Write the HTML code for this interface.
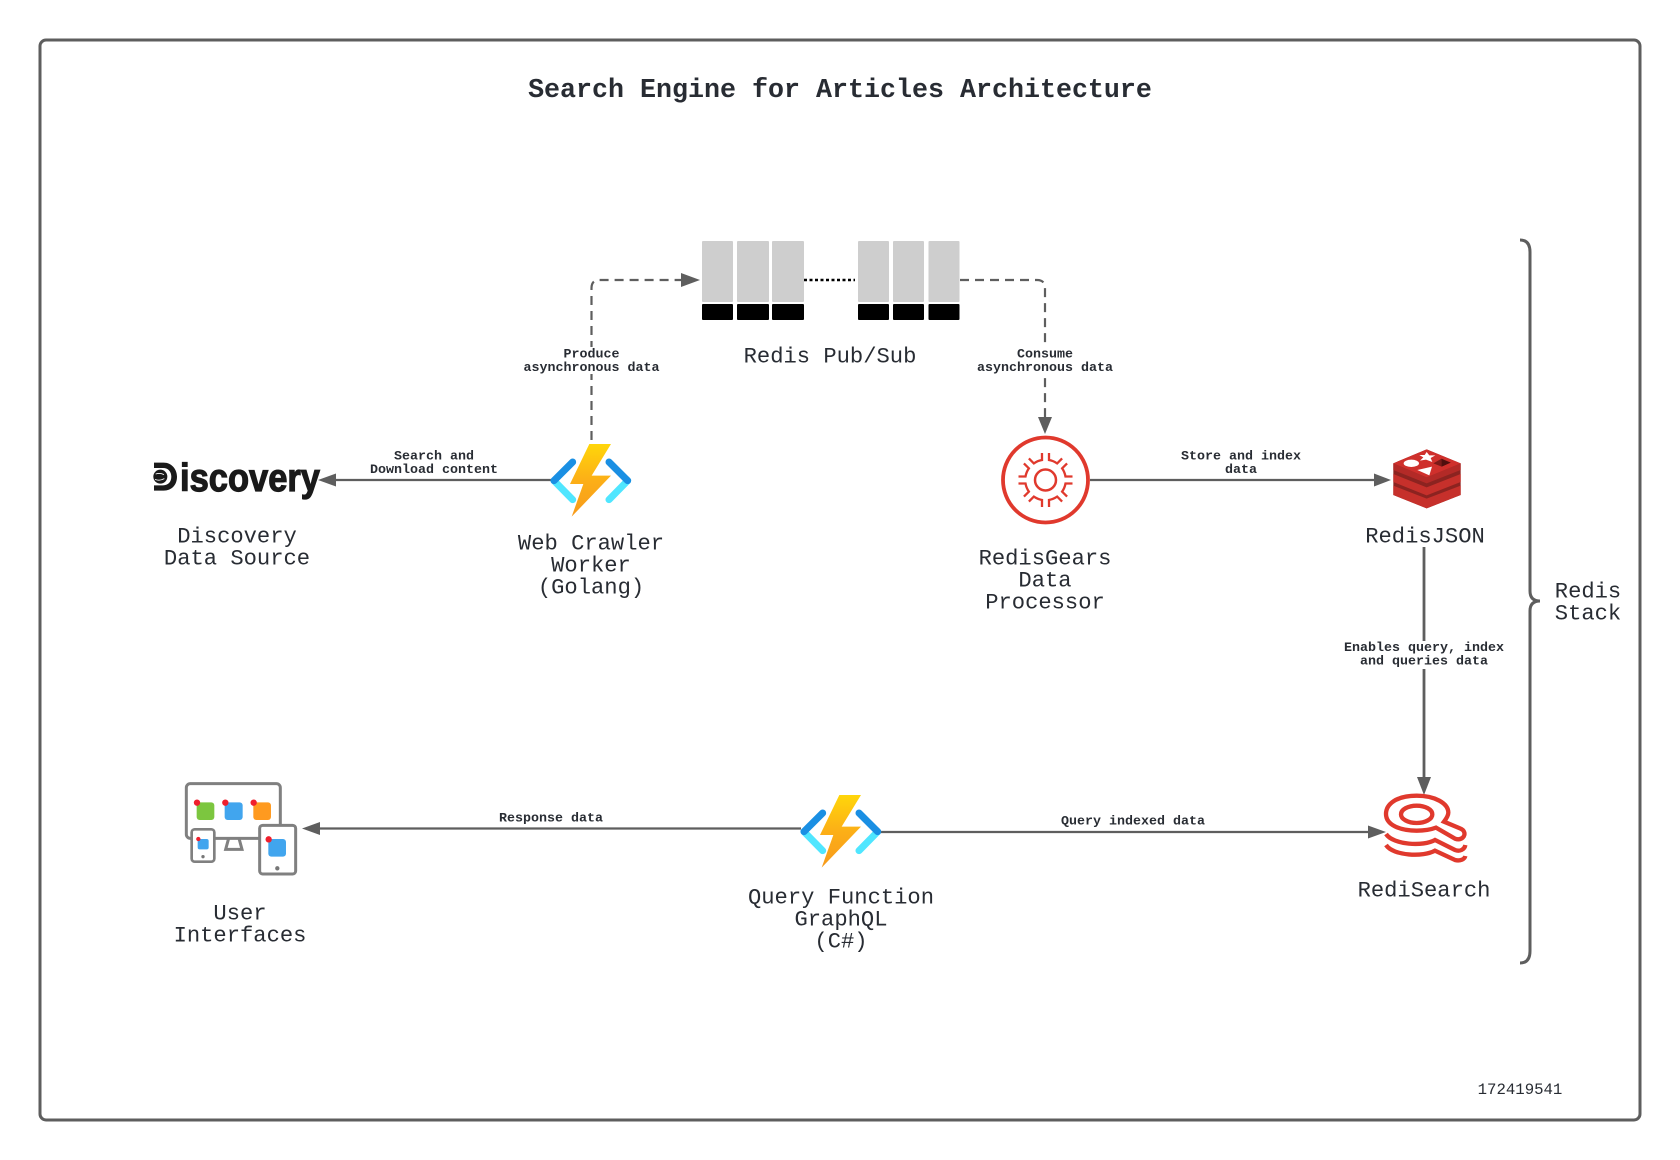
<!DOCTYPE html>
<html><head><meta charset="utf-8"><style>
html,body{margin:0;padding:0;background:#fff}svg{display:block}
.n{font:22.15px "Liberation Mono",monospace;fill:#282c33;text-anchor:middle}
.e{font:bold 13.33px "Liberation Mono",monospace;fill:#282c33;text-anchor:middle}
</style></head><body>
<svg width="1680" height="1160" viewBox="0 0 1680 1160" xmlns="http://www.w3.org/2000/svg">
<defs>
<linearGradient id="b" x1="0" y1="0" x2="0" y2="1"><stop offset="0" stop-color="#ffd60a"/><stop offset=".5" stop-color="#fcaf17"/><stop offset="1" stop-color="#f79a1b"/></linearGradient>
<g id="fn" transform="scale(.3333)">
<path d="M72,155L128,212M237,212L293,155" stroke="#50e6ff" stroke-width="21" stroke-linecap="round" fill="none"/>
<path d="M72,155L128,99M237,99L293,155" stroke="#1a8fe3" stroke-width="21" stroke-linecap="round" fill="none"/>
<polygon points="178,45 243,45 185,140 243,140 125,263 160,165 120,165" fill="url(#b)"/>
</g>
<path id="t" d="M3.5,-27L3.5,-20A20.3,20.3 0 0 1 11.67,-16.6L16.6,-21.6" fill="none" stroke="#e0392d" stroke-width="2.3"/>
</defs>
<rect x="40" y="40" width="1600" height="1080" rx="6" fill="#fff" stroke="#5e5e5e" stroke-width="3"/>
<text x="840" y="97" font-family="Liberation Mono" font-weight="bold" font-size="26.67" fill="#282c33" text-anchor="middle">Search Engine for Articles Architecture</text>

<!-- queue -->
<g fill="#cecece"><rect x="702" y="241" width="31" height="61" rx="1"/><rect x="737" y="241" width="32" height="61" rx="1"/><rect x="772" y="241" width="32" height="61" rx="1"/><rect x="858" y="241" width="31" height="61" rx="1"/><rect x="893" y="241" width="31" height="61" rx="1"/><rect x="928.500" y="241" width="31" height="61" rx="1"/></g>
<g fill="#000"><rect x="702" y="304" width="31" height="16" rx="1"/><rect x="737" y="304" width="32" height="16" rx="1"/><rect x="772" y="304" width="32" height="16" rx="1"/><rect x="858" y="304" width="31" height="16" rx="1"/><rect x="893" y="304" width="31" height="16" rx="1"/><rect x="928.500" y="304" width="31" height="16" rx="1"/></g>
<path d="M804,280H855" stroke="#000" stroke-width="2.6" stroke-dasharray="3 2.5" fill="none"/>

<!-- connectors -->
<g fill="none" stroke="#5e5e5e" stroke-width="2.2">
<path d="M591.5,440V288Q591.5,280 599.5,280H684" stroke-dasharray="9 6"/>
<path d="M960,280H1037Q1045,280 1045,288V420" stroke-dasharray="9 6"/>
<path d="M552,480H334"/>
<path d="M1090,480H1376"/>
<path d="M1424,547V780" stroke-width="2.8"/>
<path d="M801,828.5H316"/>
<path d="M881,832H1370"/>
<path d="M1520,240Q1530,240 1530,252V591Q1530,601 1540,601Q1530,601 1530,611V951Q1530,963 1520,963" stroke-width="3"/>
</g>
<g fill="#5e5e5e">
<polygon points="700,280 681,273 681,287"/>
<polygon points="1045,434 1038,417 1052,417"/>
<polygon points="318,480 336,473.5 336,486.5"/>
<polygon points="1391,480 1374,473.5 1374,486.5"/>
<polygon points="1424,795 1417,777 1431,777"/>
<polygon points="302,828.5 320,822 320,835"/>
<polygon points="1386,832 1368,825.500 1368,838.500"/>
</g>

<!-- edge label backgrounds -->
<g fill="#fff"><rect x="570" y="347" width="44" height="27"/><rect x="1023" y="347" width="44" height="27"/><rect x="1410" y="641" width="28" height="28"/></g>

<g>
<text class="e" x="591.500" y="357.500">Produce</text><text class="e" x="591.500" y="371">asynchronous data</text>
<text class="e" x="1045" y="357.500">Consume</text><text class="e" x="1045" y="371">asynchronous data</text>
<text class="e" x="434" y="459.500">Search and</text><text class="e" x="434" y="473">Download content</text>
<text class="e" x="1241" y="459.500">Store and index</text><text class="e" x="1241" y="473">data</text>
<text class="e" x="1424" y="651">Enables query, index</text><text class="e" x="1424" y="664.500">and queries data</text>
<text class="e" x="551" y="821.500">Response data</text>
<text class="e" x="1133" y="824.500">Query indexed data</text>
</g>

<!-- node labels -->
<text class="n" x="830" y="362.300">Redis Pub/Sub</text>
<text class="n" x="237" y="542.300">Discovery</text><text class="n" x="237" y="564.500">Data Source</text>
<text class="n" x="591" y="549.300">Web Crawler</text><text class="n" x="591" y="571.500">Worker</text><text class="n" x="591" y="593.700">(Golang)</text>
<text class="n" x="1045" y="564.300">RedisGears</text><text class="n" x="1045" y="586.500">Data</text><text class="n" x="1045" y="608.700">Processor</text>
<text class="n" x="1425" y="542.300">RedisJSON</text>
<text class="n" x="1588" y="597.300">Redis</text><text class="n" x="1588" y="619.500">Stack</text>
<text class="n" x="240" y="919.300">User</text><text class="n" x="240" y="941.500">Interfaces</text>
<text class="n" x="841" y="903.300">Query Function</text><text class="n" x="841" y="925.500">GraphQL</text><text class="n" x="841" y="947.700">(C#)</text>
<text class="n" x="1424" y="896.300">RediSearch</text>
<text x="1520" y="1094" font-family="Liberation Mono" font-size="15.7" fill="#282c33" text-anchor="middle">172419541</text>

<!-- discovery logo -->
<g transform="translate(145,450) scale(.3333)">
<path d="M27,38H56C80,38 96,58 96,80C96,105 80,122 56,122H27V106H54C70,106 79,95 79,80C79,65 70,54 54,54H27Z" fill="#1a1a1a"/>
<circle cx="46" cy="80" r="21" fill="#1a1a1a"/>
<path d="M32,72Q45,68 57,74M30,88Q44,94 58,86" fill="none" stroke="#fff" stroke-width="2.500"/>
</g>
<text x="180" y="491" font-family="Liberation Sans" font-weight="bold" font-size="39" fill="#1a1a1a" stroke="#1a1a1a" stroke-width="1.200" textLength="140" lengthAdjust="spacingAndGlyphs">iscovery</text>

<!-- function icons -->
<use href="#fn" x="530" y="429"/>
<use href="#fn" x="780" y="780"/>

<!-- gears -->
<circle cx="1045.500" cy="480" r="42.500" fill="#fff" stroke="#e0392d" stroke-width="3.800"/>
<circle cx="1045.500" cy="480" r="10.500" fill="none" stroke="#e0392d" stroke-width="2.500"/>
<g transform="translate(1045.500,480)"><use href="#t"/><use href="#t" transform="rotate(45)"/><use href="#t" transform="rotate(90)"/><use href="#t" transform="rotate(135)"/><use href="#t" transform="rotate(180)"/><use href="#t" transform="rotate(225)"/><use href="#t" transform="rotate(270)"/><use href="#t" transform="rotate(315)"/></g>

<!-- redis logo -->
<g transform="translate(1380,440) scale(.3333)">
<polygon points="40,70 140,28 242,70 242,165 140,205 40,165" fill="#8c2320"/>
<polygon points="40,137 140,176 242,137 242,165 140,205 40,165" fill="#c6302b"/>
<polygon points="40,102 140,142 242,102 242,126 140,166 40,126" fill="#c6302b"/>
<polygon points="40,70 140,112 242,70 242,90 140,130 40,90" fill="#b32a27"/>
<polygon points="40,70 140,28 242,70 140,112" fill="#cf302c"/>
<ellipse cx="94" cy="70" rx="23" ry="11" fill="#fff"/>
<polygon points="140,36 148,46 166,46 152,54 157,66 138,59 120,62 130,52 118,45 134,45" fill="#fff"/>
<polygon points="112,90 156,80 148,106" fill="#fff"/>
<polygon points="160,70 185,56 212,68 185,80" fill="#7a1a18"/>
<polygon points="185,57 212,68 185,80" fill="#4f0f0e"/>
</g>

<!-- redisearch logo -->
<g transform="translate(1360,780) scale(.3333)" fill="none" stroke="#e0392d" stroke-width="13">
<path d="M170,47C110,47 78,72 78,102C78,135 120,152 170,152C195,152 215,148 228,143L285,176C305,183 318,168 312,155C310,150 305,147 300,145L252,125C262,112 265,105 265,98C265,70 225,47 170,47Z"/>
<ellipse cx="170" cy="103" rx="47" ry="26"/>
<path d="M78,162C100,195 190,200 225,180L285,210C300,216 314,208 316,195"/>
<path d="M78,195C100,228 190,232 225,212L285,240C300,244 314,238 316,228"/>
</g>

<!-- user interfaces -->
<g transform="translate(170,770) scale(.3333)">
<path d="M176,205L167,238H216L207,205" fill="#fff" stroke="#808080" stroke-width="9"/>
<rect x="49" y="41" width="282" height="164" rx="12" fill="#fff" stroke="#808080" stroke-width="9"/>
<rect x="80" y="97" width="53" height="53" rx="9" fill="#7cc63f"/><rect x="164" y="97" width="54" height="53" rx="9" fill="#41a5ee"/><rect x="250" y="97" width="53" height="53" rx="9" fill="#ff9a1f"/>
<circle cx="81" cy="98" r="9.500" fill="#f01f2d"/><circle cx="166" cy="98" r="9.500" fill="#f01f2d"/><circle cx="251" cy="98" r="9.500" fill="#f01f2d"/>
<rect x="65" y="178" width="68" height="97" rx="9" fill="#fff" stroke="#808080" stroke-width="8"/>
<rect x="83" y="207" width="33" height="31" rx="6" fill="#41a5ee"/><circle cx="85" cy="207" r="6.500" fill="#f01f2d"/><circle cx="99" cy="260" r="5" fill="#777"/>
<rect x="269" y="166" width="108" height="146" rx="9" fill="#fff" stroke="#808080" stroke-width="9"/>
<rect x="295" y="207" width="53" height="53" rx="9" fill="#41a5ee"/><circle cx="296" cy="208" r="9.500" fill="#f01f2d"/><circle cx="322" cy="295" r="6.500" fill="#777"/>
</g>
</svg>
</body></html>
